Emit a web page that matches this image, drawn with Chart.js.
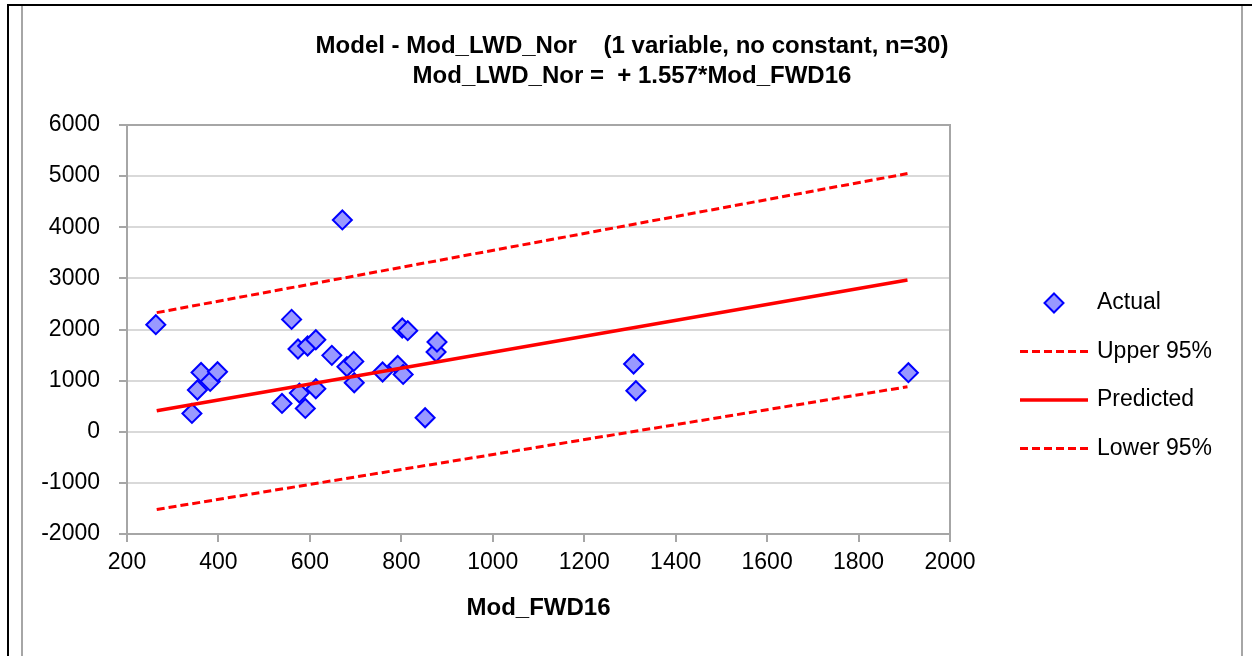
<!DOCTYPE html>
<html>
<head>
<meta charset="utf-8">
<script src="https://cdn.jsdelivr.net/npm/chart.js@4/dist/chart.umd.min.js"></script>
<style>
  body { margin: 0; background: #fff; }
  #wrap { position: relative; width: 1252px; height: 656px; }
</style>
</head>
<body>
<div id="wrap"><canvas id="chart" width="1252" height="656"></canvas></div>
<script>
// observed points (Mod_FWD16 vs Mod_LWD_Nor)
const actualX = [263, 342, 354, 362, 382, 398, 539, 560, 574, 577, 590, 595, 613, 613, 648,
                 671, 681, 696, 697, 759, 792, 802, 804, 814, 852, 876, 878, 1308, 1313, 1909];
const actualY = [2094, 358, 816, 1160, 984, 1174, 554, 2198, 1618, 757, 456, 1677, 1800, 841, 1494,
                 4143, 1272, 1376, 959, 1168, 1297, 2029, 1121, 1977, 274, 1560, 1755, 1325, 802, 1155];

// fitted line and 95% band end points
const lineX = [265, 1907];
const predicted = [412, 2969];
const upper95 = [2330, 5050];
const lower95 = [-1520, 880];

const xTicks = [200, 400, 600, 800, 1000, 1200, 1400, 1600, 1800, 2000];
const yTicks = [-2000, -1000, 0, 1000, 2000, 3000, 4000, 5000, 6000];

const titleLines = ['Model - Mod_LWD_Nor    (1 variable, no constant, n=30)',
                    'Mod_LWD_Nor =  + 1.557*Mod_FWD16'];
const xTitle = 'Mod_FWD16';

function pts(xs, ys) {
    return xs.map(function(x, i) { return { x: x, y: ys[i] }; });
}

const FONT = "'Liberation Sans', Arial, sans-serif";
const AXIS_GRAY = '#a6a6a6';

const frame = {
    id: 'frame',
    beforeDraw(chart) {
        const ctx = chart.ctx;
        ctx.save();
        ctx.fillStyle = '#fff';
        ctx.fillRect(0, 0, chart.width, chart.height);
        ctx.fillStyle = '#000';
        ctx.fillRect(7, 4, chart.width - 7, 2);
        ctx.fillRect(7, 4, 2, chart.height - 4);
        ctx.fillStyle = AXIS_GRAY;
        ctx.fillRect(21, 6, 2, chart.height - 6);
        ctx.fillRect(1241, 6, 2, chart.height - 6);
        ctx.restore();
    },
    afterDraw(chart) {
        // plot area border (top and right)
        const a = chart.chartArea, ctx = chart.ctx;
        ctx.save();
        ctx.strokeStyle = AXIS_GRAY;
        ctx.lineWidth = 2;
        ctx.beginPath();
        ctx.moveTo(a.left, a.top);
        ctx.lineTo(a.right, a.top);
        ctx.lineTo(a.right, a.bottom);
        ctx.stroke();

        // legend on the right
        ctx.font = '23px ' + FONT;
        ctx.textBaseline = 'middle';
        chart.data.datasets.forEach(function(ds, row) {
            const y = 303 + row * 48.5;
            if (ds.showLine) {
                ctx.strokeStyle = ds.borderColor;
                ctx.lineWidth = ds.borderWidth;
                ctx.setLineDash(ds.borderDash || []);
                ctx.beginPath();
                ctx.moveTo(1020, y);
                ctx.lineTo(1088, y);
                ctx.stroke();
                ctx.setLineDash([]);
            } else {
                const r = ds.pointRadius;
                ctx.beginPath();
                ctx.moveTo(1054, y - r);
                ctx.lineTo(1054 + r, y);
                ctx.lineTo(1054, y + r);
                ctx.lineTo(1054 - r, y);
                ctx.closePath();
                ctx.fillStyle = ds.backgroundColor;
                ctx.fill();
                ctx.strokeStyle = ds.borderColor;
                ctx.lineWidth = ds.borderWidth;
                ctx.stroke();
            }
            ctx.fillStyle = '#000';
            ctx.fillText(ds.label, 1097, y);
        });
        ctx.restore();
    }
};

new Chart(document.getElementById('chart'), {
    type: 'scatter',
    data: {
        datasets: [
            {
                label: 'Actual',
                data: pts(actualX, actualY),
                pointStyle: 'rectRot',
                pointRadius: 9.5,
                pointHoverRadius: 9.5,
                backgroundColor: '#9999ff',
                borderColor: '#0000ff',
                borderWidth: 2,
                order: 2
            },
            {
                label: 'Upper 95%',
                data: pts(lineX, upper95),
                showLine: true,
                pointRadius: 0,
                borderColor: '#ff0000',
                borderWidth: 3,
                borderDash: [8, 4],
                order: 1
            },
            {
                label: 'Predicted',
                data: pts(lineX, predicted),
                showLine: true,
                pointRadius: 0,
                borderColor: '#ff0000',
                borderWidth: 3.5,
                order: 1
            },
            {
                label: 'Lower 95%',
                data: pts(lineX, lower95),
                showLine: true,
                pointRadius: 0,
                borderColor: '#ff0000',
                borderWidth: 3,
                borderDash: [8, 4],
                order: 1
            }
        ]
    },
    options: {
        responsive: false,
        animation: false,
        layout: { padding: { left: 12, right: 0, top: 0, bottom: 0 } },
        plugins: {
            legend: { display: false },
            tooltip: { enabled: false },
            title: {
                display: true,
                text: titleLines,
                color: '#000',
                font: { family: FONT, size: 24, weight: 'bold', lineHeight: 1.25 },
                padding: { top: 31, bottom: 34 }
            }
        },
        scales: {
            x: {
                type: 'linear',
                min: 200,
                max: 2000,
                afterBuildTicks(s) { s.ticks = xTicks.map(function(v) { return { value: v }; }); },
                afterFit(s) { s.height = 122; },
                ticks: { color: '#000', font: { family: FONT, size: 23 }, padding: 7,
                         callback: function(v) { return String(v); } },
                grid: { drawOnChartArea: false, drawTicks: true, tickLength: 8, color: AXIS_GRAY, lineWidth: 2 },
                border: { color: AXIS_GRAY, width: 2 },
                title: {
                    display: true,
                    text: xTitle,
                    color: '#000',
                    font: { family: FONT, size: 24, weight: 'bold' },
                    padding: { top: 4, bottom: 33 }
                }
            },
            y: {
                type: 'linear',
                min: -2000,
                max: 6000,
                afterBuildTicks(s) { s.ticks = yTicks.map(function(v) { return { value: v }; }); },
                afterFit(s) { s.width = 115; },
                ticks: { color: '#000', font: { family: FONT, size: 23 }, padding: 19,
                         callback: function(v) { return String(v); } },
                grid: { color: '#d9d9d9', lineWidth: 2, tickLength: 8, tickColor: AXIS_GRAY },
                border: { color: AXIS_GRAY, width: 2 }
            },
            legendSpace: {
                type: 'linear',
                position: 'right',
                min: 0,
                max: 1,
                afterFit(s) { s.width = 302; },
                ticks: { display: false },
                grid: { display: false },
                border: { display: false }
            }
        }
    },
    plugins: [frame]
});
</script>
</body>
</html>
